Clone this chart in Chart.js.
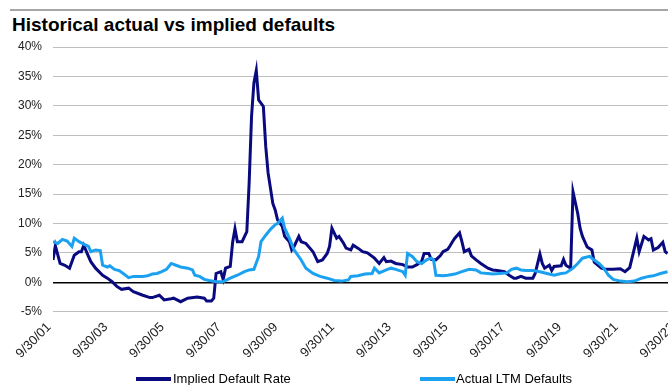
<!DOCTYPE html>
<html>
<head>
<meta charset="utf-8">
<script src="https://cdn.jsdelivr.net/npm/chart.js@4/dist/chart.umd.min.js"></script>
<style>
  html, body { margin: 0; padding: 0; background: #fff; }
  #wrap { position: relative; width: 668px; height: 385px; overflow: hidden; background: #fff;
          font-family: "Liberation Sans", Arial, sans-serif; }
  #rule { position: absolute; left: 10px; right: 0; top: 9px; height: 2px; background: #a6a6a6; }
  #title { position: absolute; left: 12px; top: 15px; font-size: 19px; line-height: 19px; font-weight: bold; color: #000; white-space: nowrap; }
  #chart { position: absolute; left: 0; top: 0; }
  .leg { position: absolute; top: 371px; height: 16px; font-size: 13px; line-height: 16px; color: #000; white-space: nowrap; }
  .sw { position: absolute; top: 6px; width: 35px; height: 4px; }
</style>
</head>
<body>
<div id="wrap">
  <div id="rule"></div>
  <div id="title">Historical actual vs implied defaults</div>
  <canvas id="chart" width="700" height="385"></canvas>
  <div class="leg" style="left:136px;"><span class="sw" style="left:0;background:#0a0a80;"></span><span style="position:absolute;left:37px;">Implied Default Rate</span></div>
  <div class="leg" style="left:420px;"><span class="sw" style="left:0;background:#1ba1f0;"></span><span style="position:absolute;left:36px;">Actual LTM Defaults</span></div>
</div>
<script>
// Month offsets counted from 9/30/01; values in percent.
const tickLabels = ['9/30/01','9/30/03','9/30/05','9/30/07','9/30/09','9/30/11','9/30/13','9/30/15','9/30/17','9/30/19','9/30/21','9/30/23'];

const impliedMonth = [0,1,3,5,7,9,11,12,13,15,16,18,21,23,25,27,29,32,34,38,41,42,45,47,50,51,54,57,61,64,65,67,68,69,71,72,73,75,76,77,78,80,82,83,84,85,86,87,89,90,91,93,94,95,97,98,100,101,102,104,105,107,110,112,114,116,117,118,120,121,123,124,126,127,129,131,133,136,138,140,141,143,145,148,150,152,154,156,157,159,160,162,164,165,167,168,169,170,172,173,174,176,177,179,181,184,186,188,191,193,195,196,198,200,203,204,206,207,208,210,211,212,215,216,217,219,220,222,223,224,226,228,229,232,234,237,240,242,244,247,248,250,252,253,254,256,258,259,260];
const impliedRate = [3.8,6.2,3.2,2.9,2.4,4.6,5.2,5.2,6.3,4.4,3.5,2.4,1.2,0.7,0.1,-0.7,-1.2,-1.0,-1.6,-2.2,-2.6,-2.6,-2.2,-3.0,-2.8,-2.7,-3.3,-2.7,-2.5,-2.7,-3.2,-3.2,-2.7,1.5,1.8,0.5,2.4,2.7,6.8,9.1,6.9,6.9,8.6,17.0,28.2,33.9,36.0,31.0,29.9,23.1,18.6,13.4,12.3,10.6,9.5,7.8,6.9,5.5,6.1,7.8,6.9,6.6,5.2,3.5,3.8,4.9,6.1,9.2,7.5,7.8,6.6,5.8,5.5,6.3,5.8,5.2,5.0,4.1,3.2,4.2,3.5,3.6,3.2,3.0,2.6,2.6,3.0,3.6,4.9,4.9,3.9,3.8,4.6,5.2,5.6,6.2,6.9,7.5,8.4,6.9,5.2,5.6,4.5,3.8,3.2,2.4,2.1,2.0,1.8,1.2,0.7,0.7,1.0,0.7,0.7,1.5,4.8,3.2,2.4,2.9,2.0,2.7,2.8,3.9,2.9,2.4,15.4,11.7,9.2,7.8,6.0,5.5,3.4,2.4,2.2,2.2,2.3,1.8,2.5,7.5,5.2,7.8,7.2,7.4,5.5,5.9,6.8,5.2,4.9];

const actualMonth = [0,2,4,6,8,9,11,13,15,16,18,20,21,23,24,26,28,30,32,34,38,40,42,44,46,48,50,52,54,57,59,60,62,64,66,69,72,75,78,81,83,85,87,88,90,92,94,95,97,98,100,102,105,107,110,113,116,119,122,125,126,129,132,135,136,138,141,143,145,148,149,150,152,154,156,158,160,161,162,165,167,170,173,176,179,181,184,186,189,192,194,196,198,200,203,206,209,212,215,217,220,222,224,227,229,231,233,235,237,240,243,246,249,252,254,257,260];
const actualRate = [6.9,6.6,7.3,7.0,6.1,7.5,6.9,6.5,6.1,5.2,5.5,5.4,2.9,2.6,2.8,2.2,2.0,1.4,0.8,1.0,1.0,1.1,1.4,1.5,1.8,2.2,3.2,2.9,2.6,2.4,2.1,1.2,1.0,0.5,0.3,0.1,0.1,0.7,1.2,1.8,2.1,2.2,4.4,6.9,8.0,9.0,9.8,10.0,10.9,9.2,7.5,5.5,3.8,2.4,1.5,1.0,0.7,0.3,0.2,0.4,1.0,1.1,1.4,1.5,2.4,1.6,2.1,2.4,2.2,1.8,1.2,4.9,4.4,3.5,3.2,3.8,4.1,3.8,1.2,1.1,1.2,1.4,1.8,2.2,2.1,1.6,1.5,1.4,1.5,1.6,2.2,2.4,2.1,2.0,2.0,1.8,1.5,1.2,1.5,1.6,2.4,3.2,4.1,4.4,3.8,3.2,2.4,1.2,0.5,0.2,0.1,0.2,0.7,1.0,1.1,1.5,1.8];

const toPoints = (xs, ys) => xs.map((x, i) => ({ x: x, y: ys[i] }));

new Chart(document.getElementById('chart'), {
  type: 'line',
  data: {
    datasets: [
      {
        label: 'Implied Default Rate',
        data: toPoints(impliedMonth, impliedRate),
        borderColor: '#0a0a80',
        borderWidth: 3,
        pointRadius: 0,
        tension: 0,
        order: 1
      },
      {
        label: 'Actual LTM Defaults',
        data: toPoints(actualMonth, actualRate),
        borderColor: '#1ba1f0',
        borderWidth: 3,
        pointRadius: 0,
        tension: 0,
        order: 0
      }
    ]
  },
  options: {
    responsive: false,
    animation: false,
    devicePixelRatio: 1,
    layout: { padding: { top: 47, right: 23, bottom: 0, left: 0 } },
    plugins: { legend: { display: false }, tooltip: { enabled: false }, title: { display: false } },
    scales: {
      x: {
        type: 'linear',
        min: 0,
        max: 264,
        grid: { display: false },
        border: { display: false },
        ticks: {
          stepSize: 24,
          autoSkip: false,
          minRotation: 45,
          maxRotation: 45,
          padding: 0,
          labelOffset: -4,
          color: '#222',
          font: { family: 'Liberation Sans', size: 13 },
          callback: (v) => tickLabels[Math.round(v / 24)]
        },
        afterFit: (s) => { s.height = 385 - 311.7; }
      },
      y: {
        min: -5,
        max: 40,
        grid: {
          drawTicks: false,
          color: (c) => (c.tick && c.tick.value === 0 ? '#000' : '#bfbfbf'),
          lineWidth: (c) => (c.tick && c.tick.value === 0 ? 1.5 : 1)
        },
        border: { display: false },
        ticks: {
          stepSize: 5,
          padding: 11,
          color: '#222',
          font: { family: 'Liberation Sans', size: 12 },
          callback: (v) => v + '%'
        },
        afterFit: (s) => { s.width = 53; }
      }
    }
  }
});
</script>
</body>
</html>
